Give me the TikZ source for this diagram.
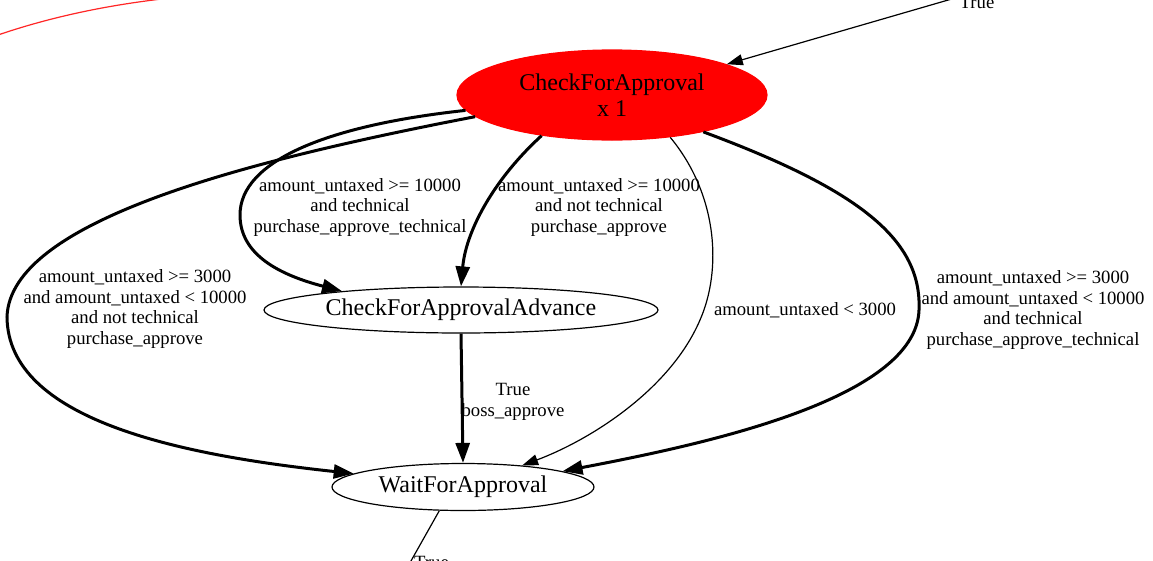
\documentclass[tikz,border=0pt]{standalone}
\usepackage{fontspec}
\setmainfont{Liberation Serif}
\usetikzlibrary{arrows.meta,shapes.geometric}
\begin{document}
\begin{tikzpicture}[x=1pt,y=-1pt,
  state/.style={ellipse, draw, line width=1.2pt, inner sep=0pt, font=\fontsize{24}{26}\selectfont},
  elabel/.style={align=center, font=\fontsize{18.7}{20.5}\selectfont, inner sep=0pt},
  thickedge/.style={line width=3pt, -{Triangle[length=20pt,width=14pt]}},
  thinedge/.style={line width=1.2pt, -{Triangle[length=16pt,width=11pt]}},
]
\useasboundingbox (0,0) rectangle (1153,560);
\node[state, fill=red, draw=red, minimum width=310pt, minimum height=90pt, align=center] (cfa) at (612,95) {CheckForApproval\\x 1};
\node[state, minimum width=394pt, minimum height=46pt] (cfaa) at (461,310) {CheckForApprovalAdvance};
\node[state, minimum width=262pt, minimum height=47pt] (wfa) at (463,487) {WaitForApproval};

\coordinate (topin) at (962,-4);
\coordinate (botout) at (407,568);
\coordinate (r1) at (-5,36);
\coordinate (r2) at (180,-3);

% incoming top edge
\draw[thinedge] (topin) -- (cfa.15);
\node[elabel, anchor=center] (ltop) at (977,2) {True};

% red edge fragment
\draw[red!85!white, line width=1.2pt] (r1) .. controls (50,17) and (110,4) .. (r2);

% a
\draw[thickedge] (cfa.189.2) .. controls (250,160) and (10,220) .. (7,317) .. controls (8,420) and (180,455) .. (wfa.173);
\node[elabel] (la) at (135,309) {amount\_untaxed >= 3000\\and amount\_untaxed < 10000\\and not technical\\purchase\_approve};

% b
\draw[thickedge] (cfa.186.7) .. controls (330,125) and (240,160) .. (240,215) .. controls (240,255) and (280,275) .. (cfaa.171.3);
\node[elabel] (lb) at (360,207) {amount\_untaxed >= 10000\\and technical\\purchase\_approve\_technical};

% c
\draw[thickedge] (cfa.210) .. controls (495,178) and (466,230) .. (cfaa.90);
\node[elabel] (lc) at (599,207) {amount\_untaxed >= 10000\\and not technical\\purchase\_approve};

% d
\draw[thinedge] (cfa.324.5) .. controls (718,195) and (722,270) .. (700,320) .. controls (670,390) and (590,440) .. (wfa.20.5);
\node[elabel] (ld) at (805,310) {amount\_untaxed < 3000};

% e
\draw[thickedge] (cfa.338.7) .. controls (860,190) and (922,240) .. (919,310) .. controls (916,400) and (700,445) .. (wfa.9.8);
\node[elabel] (le) at (1033,310) {amount\_untaxed >= 3000\\and amount\_untaxed < 10000\\and technical\\purchase\_approve\_technical};

% f
\draw[thickedge] (cfaa.270) -- (wfa.90);
\node[elabel] (lf) at (513,402) {True\\boss\_approve};

% bottom outgoing
\draw[line width=1.2pt] (wfa.225) -- (botout);
\node[elabel, anchor=north west] (lbot) at (414,556) {True};
\end{tikzpicture}
\end{document}
